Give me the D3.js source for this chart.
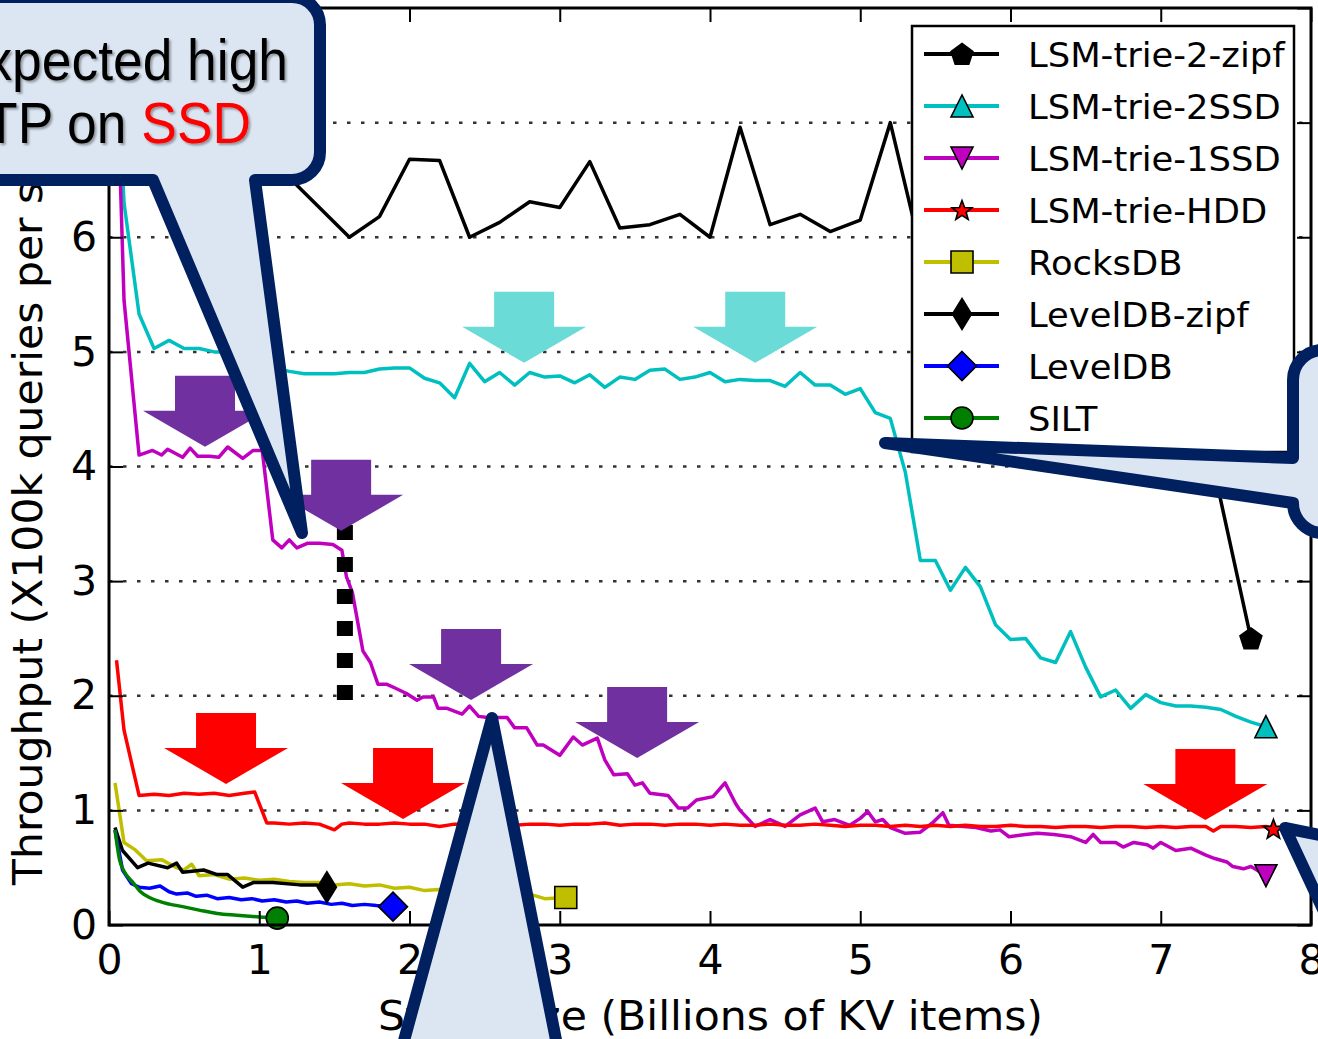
<!DOCTYPE html>
<html>
<head>
<meta charset="utf-8">
<script src="https://cdn.jsdelivr.net/npm/d3@7"></script>
<style>
  body { margin: 0; background: #fff; }
  svg { display: block; }
</style>
</head>
<body>
<svg id="chart" width="1318" height="1039"></svg>
<script>
// ---- data: [store size (billions), throughput (x100k q/s)] ----
var lsmTrie2Zipf = [[0.2,7.1],[0.4,6.8],[0.6,6.95],[0.8,6.7],[1.0,6.9],[1.2,6.52],[1.6,6.0],[1.8,6.18],
  [2.0,6.68],[2.2,6.67],[2.4,6.0],[2.6,6.13],[2.8,6.31],[3.0,6.26],[3.2,6.66],[3.4,6.08],[3.6,6.11],
  [3.8,6.2],[4.0,6.0],[4.2,6.96],[4.4,6.11],[4.6,6.2],[4.8,6.05],[5.0,6.15],[5.2,7.0],[5.4,5.9],
  [5.6,6.3],[5.8,6.1],[6.0,6.6],[6.2,6.2],[6.4,6.4],[6.6,6.05],[6.8,6.5],[7.0,6.2],[7.2,5.8],[7.3,4.3],[7.6,2.5]];

var lsmTrie2SSD = [[0.05,7.6],[0.1,6.3],[0.2,5.33],[0.3,5.03],[0.4,5.1],[0.5,5.03],[0.6,5.03],[0.7,5.0],
  [0.8,5.0],[0.9,4.97],[1.0,4.95],[1.1,4.86],[1.2,4.83],[1.3,4.81],[1.4,4.81],[1.5,4.81],[1.6,4.82],
  [1.7,4.82],[1.8,4.85],[1.9,4.86],[2.0,4.86],[2.1,4.77],[2.2,4.73],[2.3,4.6],[2.4,4.9],[2.5,4.74],
  [2.6,4.82],[2.7,4.71],[2.8,4.82],[2.9,4.78],[3.0,4.79],[3.1,4.73],[3.2,4.8],[3.3,4.69],[3.4,4.78],
  [3.5,4.76],[3.6,4.84],[3.7,4.85],[3.8,4.76],[3.9,4.78],[4.0,4.82],[4.1,4.74],[4.2,4.76],[4.3,4.75],
  [4.4,4.75],[4.5,4.7],[4.6,4.82],[4.7,4.71],[4.8,4.71],[4.9,4.63],[5.0,4.68],[5.1,4.47],[5.2,4.42],
  [5.3,3.95],[5.4,3.18],[5.5,3.18],[5.6,2.92],[5.7,3.12],[5.8,2.95],[5.9,2.62],[6.0,2.49],[6.1,2.5],
  [6.2,2.33],[6.3,2.29],[6.4,2.56],[6.5,2.25],[6.6,1.99],[6.7,2.05],[6.8,1.89],[6.9,2.01],[7.0,1.94],
  [7.1,1.91],[7.2,1.91],[7.3,1.9],[7.4,1.88],[7.5,1.82],[7.6,1.77],[7.7,1.73]];

var lsmTrie1SSD = [[0.05,7.6],[0.1,5.45],[0.2,4.1],[0.29,4.14],[0.35,4.1],[0.39,4.15],[0.49,4.08],
  [0.54,4.16],[0.59,4.09],[0.67,4.09],[0.73,4.08],[0.79,4.17],[0.89,4.07],[0.96,4.14],[1.02,4.14],
  [1.09,3.36],[1.15,3.29],[1.2,3.36],[1.25,3.29],[1.32,3.33],[1.4,3.33],[1.49,3.32],[1.55,3.27],
  [1.58,3.04],[1.62,2.9],[1.69,2.39],[1.74,2.29],[1.79,2.1],[1.85,2.1],[1.9,2.07],[1.98,2.02],
  [2.05,1.96],[2.09,1.99],[2.16,1.99],[2.19,1.89],[2.25,1.89],[2.35,1.84],[2.4,1.91],[2.46,1.82],
  [2.52,1.81],[2.65,1.81],[2.7,1.72],[2.78,1.72],[2.85,1.57],[2.89,1.57],[3.0,1.48],[3.09,1.64],
  [3.15,1.57],[3.25,1.63],[3.3,1.44],[3.36,1.31],[3.45,1.32],[3.5,1.22],[3.55,1.24],[3.6,1.15],
  [3.72,1.13],[3.79,1.02],[3.85,1.02],[3.91,1.09],[4.02,1.12],[4.1,1.24],[4.17,1.06],[4.2,1.0],
  [4.3,0.86],[4.4,0.92],[4.5,0.86],[4.6,0.96],[4.7,1.02],[4.75,0.9],[4.83,0.92],[4.93,0.87],
  [5.0,0.93],[5.05,0.99],[5.1,0.9],[5.15,0.92],[5.2,0.85],[5.3,0.8],[5.4,0.81],[5.48,0.89],
  [5.55,0.98],[5.59,0.87],[5.69,0.86],[5.77,0.85],[5.87,0.82],[5.93,0.83],[5.99,0.77],[6.1,0.79],
  [6.18,0.8],[6.29,0.79],[6.4,0.77],[6.5,0.72],[6.55,0.79],[6.6,0.72],[6.7,0.72],[6.75,0.68],
  [6.82,0.72],[6.91,0.7],[6.95,0.67],[7.0,0.72],[7.1,0.65],[7.2,0.67],[7.3,0.61],[7.36,0.58],
  [7.44,0.55],[7.48,0.51],[7.55,0.49],[7.6,0.51],[7.64,0.48],[7.7,0.43]];

var lsmTrieHDD = [[0.05,2.31],[0.1,1.7],[0.2,1.13],[0.3,1.14],[0.4,1.13],[0.5,1.15],[0.6,1.14],[0.7,1.15],
  [0.8,1.13],[0.9,1.15],[0.97,1.16],[1.05,0.89],[1.1,0.89],[1.2,0.88],[1.3,0.89],[1.4,0.88],[1.5,0.83],
  [1.55,0.88],[1.6,0.89],[1.7,0.88],[1.8,0.88],[1.9,0.89],[2.0,0.88],[2.1,0.88],[2.2,0.86],[2.3,0.88],
  [2.4,0.88],[2.5,0.89],[2.6,0.88],[2.7,0.87],[2.8,0.88],[2.9,0.88],[3.0,0.87],[3.1,0.88],[3.2,0.88],
  [3.3,0.89],[3.4,0.87],[3.5,0.88],[3.6,0.88],[3.7,0.87],[3.8,0.88],[3.9,0.88],[4.0,0.87],[4.1,0.88],
  [4.2,0.87],[4.3,0.87],[4.4,0.88],[4.5,0.87],[4.6,0.87],[4.7,0.88],[4.8,0.87],[4.9,0.86],[5.0,0.87],
  [5.1,0.87],[5.2,0.86],[5.3,0.87],[5.4,0.86],[5.5,0.87],[5.6,0.86],[5.7,0.87],[5.8,0.86],[5.9,0.86],
  [6.0,0.87],[6.1,0.86],[6.2,0.86],[6.3,0.85],[6.4,0.86],[6.5,0.86],[6.6,0.85],[6.7,0.86],[6.8,0.86],
  [6.9,0.85],[7.0,0.86],[7.1,0.85],[7.2,0.86],[7.3,0.86],[7.35,0.82],[7.4,0.86],[7.5,0.86],[7.6,0.85],
  [7.7,0.86],[7.75,0.84]];

var rocksDB = [[0.04,1.24],[0.1,0.72],[0.17,0.66],[0.25,0.56],[0.35,0.57],[0.45,0.5],[0.5,0.48],
  [0.55,0.53],[0.6,0.43],[0.7,0.44],[0.8,0.4],[0.9,0.41],[1.0,0.39],[1.1,0.4],[1.2,0.38],[1.3,0.37],
  [1.4,0.37],[1.5,0.35],[1.6,0.36],[1.7,0.34],[1.8,0.35],[1.9,0.32],[2.0,0.33],[2.1,0.3],[2.2,0.31],
  [2.4,0.29],[2.6,0.29],[2.8,0.27],[2.9,0.23],[3.04,0.24]];

var levelDBZipf = [[0.04,0.85],[0.09,0.65],[0.19,0.5],[0.26,0.54],[0.39,0.5],[0.45,0.54],[0.49,0.46],
  [0.63,0.48],[0.72,0.44],[0.79,0.44],[0.89,0.33],[0.96,0.37],[1.09,0.37],[1.27,0.35],[1.38,0.35],[1.45,0.33]];

var levelDB = [[0.04,0.83],[0.09,0.48],[0.15,0.36],[0.2,0.33],[0.27,0.32],[0.34,0.34],[0.4,0.29],
  [0.45,0.27],[0.52,0.28],[0.58,0.25],[0.65,0.26],[0.72,0.23],[0.8,0.24],[0.88,0.22],[0.95,0.23],
  [1.02,0.21],[1.1,0.22],[1.18,0.2],[1.25,0.21],[1.32,0.19],[1.4,0.2],[1.48,0.18],[1.55,0.19],
  [1.62,0.17],[1.7,0.18],[1.78,0.17],[1.89,0.16]];

var silt = [[0.04,0.83],[0.07,0.57],[0.1,0.47],[0.16,0.37],[0.21,0.29],[0.27,0.24],[0.35,0.2],
  [0.49,0.16],[0.6,0.13],[0.72,0.1],[0.85,0.085],[1.0,0.07],[1.12,0.06]];

var seriesNames = ['LSM-trie-2-zipf','LSM-trie-2SSD','LSM-trie-1SSD','LSM-trie-HDD','RocksDB','LevelDB-zipf','LevelDB','SILT'];
var seriesColors = ['#000000','#00bfbf','#bf00bf','#ff0000','#bfbf00','#000000','#0000ff','#008000'];
var seriesMarkers = ['pentagon','triangleUp','triangleDown','star','square','thinDiamond','diamond','circle'];
var seriesData = [lsmTrie2Zipf, lsmTrie2SSD, lsmTrie1SSD, lsmTrieHDD, rocksDB, levelDBZipf, levelDB, silt];

var xTicks = [0,1,2,3,4,5,6,7,8];
var yTicks = [0,1,2,3,4,5,6,7,8];
var gridLevels = [1,2,3,4,5,6,7];

// block arrows (annotation): [x, top y] in data units
var cyanArrows = [[2.763,5.524],[4.301,5.524]];
var purpleArrows = [[0.639,4.791],[1.545,4.058],[2.410,2.583],[3.515,2.077]];
var redArrows = [[0.779,1.850],[1.957,1.545],[7.297,1.536]];

var svg = d3.select('#chart');
var x = d3.scaleLinear().domain([0,8]).range([109,1311]);
var y = d3.scaleLinear().domain([0,8]).range([925,8]);

var defs = svg.append('defs');
defs.append('clipPath').attr('id','plotClip')
  .append('rect').attr('x',109).attr('y',8).attr('width',1202).attr('height',917);
defs.append('filter').attr('id','txtShadow').attr('x','-10%').attr('y','-10%').attr('width','130%').attr('height','140%')
  .append('feDropShadow').attr('dx',2).attr('dy',2).attr('stdDeviation',1.2)
  .attr('flood-color','#000').attr('flood-opacity',0.35);

// dotted grid
svg.append('g').selectAll('line').data(gridLevels).join('line')
  .attr('x1',x(0)).attr('x2',x(8))
  .attr('y1',function(d){ return y(d); }).attr('y2',function(d){ return y(d); })
  .attr('stroke','#333').attr('stroke-width',2.5).attr('stroke-dasharray','3.5,10.5');

// markers
function poly(pts){ return 'M' + pts.map(function(p){ return p[0].toFixed(2)+','+p[1].toFixed(2); }).join('L') + 'Z'; }
function markerPath(kind){
  if (kind === 'pentagon') {
    var p = [];
    for (var k = 0; k < 5; k++) { var a = -Math.PI/2 + k*2*Math.PI/5; p.push([11.5*Math.cos(a), 11.5*Math.sin(a)+1]); }
    return poly(p);
  }
  if (kind === 'star') {
    var s = [];
    for (var j = 0; j < 10; j++) { var b = -Math.PI/2 + j*Math.PI/5, r = j%2 ? 4.4 : 10.5; s.push([r*Math.cos(b), r*Math.sin(b)+1]); }
    return poly(s);
  }
  if (kind === 'triangleUp') return poly([[0,-11],[-11,11],[11,11]]);
  if (kind === 'triangleDown') return poly([[0,11],[-11,-11],[11,-11]]);
  if (kind === 'square') return poly([[-11,-11],[11,-11],[11,11],[-11,11]]);
  if (kind === 'thinDiamond') return poly([[0,-15.5],[9.5,0],[0,15.5],[-9.5,0]]);
  if (kind === 'diamond') return poly([[0,-14.5],[14.5,0],[0,14.5],[-14.5,0]]);
  return d3.symbol(d3.symbolCircle, Math.PI*11*11)();
}

var line = d3.line().x(function(d){ return x(d[0]); }).y(function(d){ return y(d[1]); });
var smooth = d3.line().curve(d3.curveMonotoneX).x(function(d){ return x(d[0]); }).y(function(d){ return y(d[1]); });

var plot = svg.append('g').attr('clip-path','url(#plotClip)');
seriesData.forEach(function(data, i){
  plot.append('path').datum(data)
    .attr('d', seriesNames[i] === 'SILT' ? smooth : line)
    .attr('fill','none').attr('stroke',seriesColors[i])
    .attr('stroke-width',3.5).attr('stroke-linejoin','round');
});
seriesData.forEach(function(data, i){
  var last = data[data.length-1];
  svg.append('path').attr('d', markerPath(seriesMarkers[i]))
    .attr('transform','translate(' + x(last[0]) + ',' + y(last[1]) + ')')
    .attr('fill',seriesColors[i]).attr('stroke','#000').attr('stroke-width',1.6);
});

// axes with inward ticks on all four sides
function styleAxis(g){
  g.select('.domain').remove();
  g.selectAll('.tick line').attr('stroke','#000').attr('stroke-width',2);
  g.selectAll('.tick text').attr('fill','#000');
}
svg.append('g').attr('transform','translate(0,925)')
  .call(d3.axisBottom(x).tickValues(xTicks).tickSize(-14).tickPadding(20).tickFormat(d3.format('d')))
  .attr('font-family','DejaVu Sans').attr('font-size',41).call(styleAxis);
svg.append('g').attr('transform','translate(109,0)')
  .call(d3.axisLeft(y).tickValues(yTicks).tickSize(-14).tickPadding(12).tickFormat(d3.format('d')))
  .attr('font-family','DejaVu Sans').attr('font-size',41).call(styleAxis);
svg.append('g').attr('transform','translate(1311,0)')
  .call(d3.axisRight(y).tickValues(yTicks).tickSize(-14).tickFormat(''))
  .call(styleAxis);
svg.append('g').attr('transform','translate(0,8)')
  .call(d3.axisTop(x).tickValues(xTicks).tickSize(-14).tickFormat(''))
  .call(styleAxis);

svg.append('rect').attr('x',x(0)).attr('y',y(8)).attr('width',x(8)-x(0)).attr('height',y(0)-y(8))
  .attr('fill','none').attr('stroke','#000').attr('stroke-width',3);

// axis titles
svg.append('text').attr('transform','translate(42,885) rotate(-90) scale(1.025,1)')
  .attr('font-family','DejaVu Sans').attr('font-size',41.5).attr('fill','#000')
  .text('Throughput (X100k queries per second)');
svg.append('text').attr('transform','translate(1043,1030) scale(1.04,1)').attr('text-anchor','end')
  .attr('font-family','DejaVu Sans').attr('font-size',41).attr('fill','#000')
  .text('Store size (Billions of KV items)');

// legend
var legend = svg.append('g');
legend.append('rect').attr('x',912).attr('y',26).attr('width',382).attr('height',426)
  .attr('fill','#fff').attr('stroke','#000').attr('stroke-width',2.5);
seriesNames.forEach(function(name, i){
  var ly = 54 + i*52;
  legend.append('line').attr('x1',924).attr('x2',999).attr('y1',ly).attr('y2',ly)
    .attr('stroke',seriesColors[i]).attr('stroke-width',4);
  legend.append('path').attr('d',markerPath(seriesMarkers[i]))
    .attr('transform','translate(962,' + ly + ')')
    .attr('fill',seriesColors[i]).attr('stroke','#000').attr('stroke-width',1.6);
  legend.append('text').attr('transform','translate(1028,' + (ly+12.5) + ') scale(1.04,1)')
    .attr('font-family','DejaVu Sans').attr('font-size',34).attr('fill','#000').text(name);
});

// black dotted marker line
svg.append('line').attr('x1',x(1.57)).attr('x2',x(1.57)).attr('y1',y(3.49)).attr('y2',y(1.963))
  .attr('stroke','#000').attr('stroke-width',16).attr('stroke-dasharray','15,17');

// block arrows
function arrowPath(d){
  var cx = x(d[0]), ty = y(d[1]);
  return poly([[cx-30,ty],[cx+30,ty],[cx+30,ty+35],[cx+62,ty+35],[cx,ty+71],[cx-62,ty+35],[cx-30,ty+35]]);
}
[[cyanArrows,'#6adbd7'],[purpleArrows,'#7030a0'],[redArrows,'#ff0000']].forEach(function(set){
  svg.append('g').selectAll('path').data(set[0]).join('path')
    .attr('d',arrowPath).attr('fill',set[1]);
});

// callouts
var calloutFill = '#dce6f2', calloutStroke = '#002060';
function callout(d){
  svg.append('path').attr('d',d).attr('fill',calloutFill).attr('stroke',calloutStroke)
    .attr('stroke-width',12).attr('stroke-linejoin','round');
}
callout('M-60,-3H292A28,28 0 0 1 320,25V152A28,28 0 0 1 292,180H255L302,533L153,180H-60Z');
callout('M1360,350H1323A30,30 0 0 0 1293,380V458L885,443L1293,503A30,30 0 0 0 1323,533H1360Z');
callout('M396,1070L492,718L562,1070Z');
callout('M1285,828L1370,845L1370,1010Z');

var note = svg.append('g').attr('filter','url(#txtShadow)')
  .attr('font-family','Liberation Sans, Arial, sans-serif').attr('font-size',58).attr('text-anchor','end');
note.append('text').attr('transform','translate(288,80) scale(0.92,1)').attr('fill','#000').text('Unexpected high');
var l2 = note.append('text').attr('transform','translate(251,143) scale(0.92,1)').attr('fill','#000');
l2.append('tspan').text('TP on ');
l2.append('tspan').attr('fill','#ff0000').text('SSD');
</script>
</body>
</html>
